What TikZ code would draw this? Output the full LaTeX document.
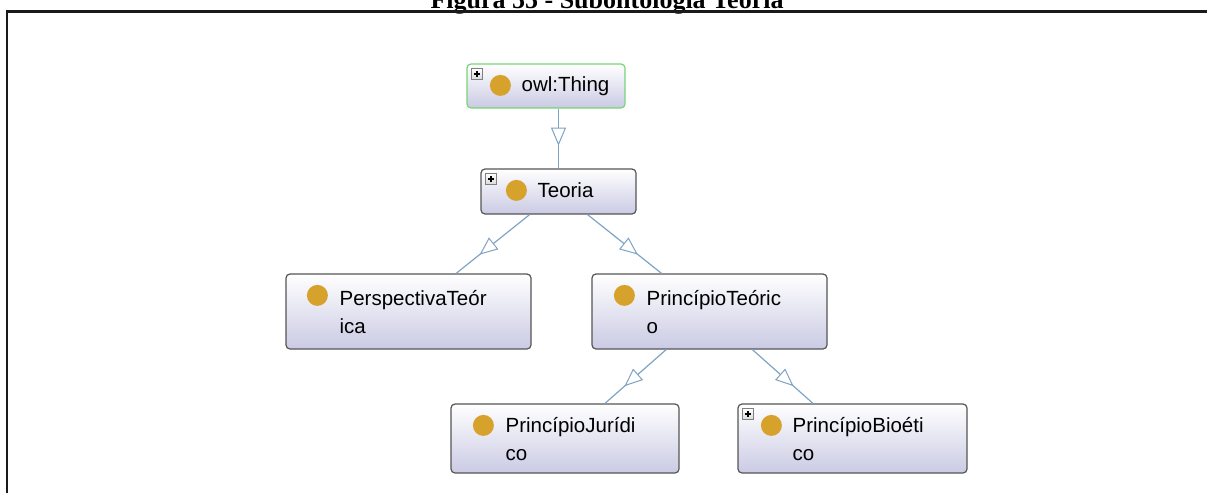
\documentclass[tikz,border=0pt]{standalone}
\usepackage{fontspec}
\setmainfont{Liberation Serif}
\newfontfamily\owlfont{Liberation Sans}
\usetikzlibrary{calc,arrows.meta,decorations.markings}
\usepackage{xcolor}

\definecolor{edgeblue}{HTML}{7FA3C4}
\definecolor{boxline}{HTML}{555555}
\definecolor{boxbot}{HTML}{CACAE4}
\definecolor{thinggreen}{HTML}{78D478}
\definecolor{dotgold}{HTML}{D6A22C}
\definecolor{framecol}{HTML}{1A1A1A}

\tikzset{
  cls/.style={rectangle,rounded corners=4pt,draw=boxline,line width=1.2pt,
    top color=white,bottom color=boxbot,inner sep=0pt},
  clstext/.style={anchor=west,inner sep=0pt,align=left,
    font=\owlfont\fontsize{20.5}{28}\selectfont},
  isa/.style={draw=edgeblue,line width=1.2pt,postaction={decorate},
    decoration={markings,mark=at position #1 with
      {\arrow{Triangle[length=18pt,width=15pt,fill=white,line width=1pt]}}}},
  isa/.default=0.68,
  plusbox/.style={draw=gray,line width=0.8pt,top color=white,bottom color=gray!30}
}

\begin{document}
\begin{tikzpicture}[x=1pt,y=-1pt]
  % Ventana
  \useasboundingbox (0,0) rectangle (1207,493);

  % Titulo y marco
  \node[anchor=base,font=\bfseries\fontsize{26}{30}\selectfont] (title) at (607,8)
    {Figura 55 - Subontologia Teoria};
  \draw[line width=2.4pt,framecol] (6.7,493) -- (6.7,11.5) -- (1207,11.5);

  % Clases
  \node[cls,draw=thinggreen,minimum width=158,minimum height=44] (thing) at (546,86) {};
  \node[cls,minimum width=155,minimum height=45] (teoria) at (558.5,191.5) {};
  \node[cls,minimum width=245,minimum height=75] (persp) at (408.5,311.5) {};
  \node[cls,minimum width=235,minimum height=75] (ptheo) at (709.5,311.5) {};
  \node[cls,minimum width=228,minimum height=69] (pjur) at (565,438.5) {};
  \node[cls,minimum width=229,minimum height=69] (pbio) at (852.5,438.5) {};

  % Bolitas
  \foreach \n/\dx in {thing/34,teoria/36,persp/32,ptheo/33,pjur/33,pbio/34}{
    \fill[dotgold] ($(\n.north west)+(\dx,22)$) circle (10.5);
  }

  % Cajitas +
  \foreach \n in {thing,teoria,pbio}{
    \draw[plusbox] ($(\n.north west)+(5,5)$) rectangle +(11,11);
    \draw[line width=1.3pt] ($(\n.north west)+(7.5,10.5)$) -- +(6,0);
    \draw[line width=1.3pt] ($(\n.north west)+(10.5,7.5)$) -- +(0,6);
  }

  % Textos
  \node[clstext] (thing-txt) at ($(thing.west)+(55,0)$) {\strut owl:Thing};
  \node[clstext] (teoria-txt) at ($(teoria.west)+(57,0)$) {\strut Teoria};
  \node[clstext,yshift=-2pt] (persp-txt) at ($(persp.west)+(54,0)$)
    {PerspectivaTeór\strut\\ica\strut};
  \node[clstext,yshift=-2pt] (ptheo-txt) at ($(ptheo.west)+(55,0)$)
    {PrincípioTeóric\strut\\o\strut};
  \node[clstext,yshift=-2pt] (pjur-txt) at ($(pjur.west)+(55,0)$)
    {PrincípioJurídi\strut\\co\strut};
  \node[clstext,yshift=-2pt] (pbio-txt) at ($(pbio.west)+(55,0)$)
    {PrincípioBioéti\strut\\co\strut};

  % Relaciones
  \draw[isa=0.62] (thing.south -| teoria.north) -- (teoria.north);
  \draw[isa] (teoria) -- (persp);
  \draw[isa] (teoria) -- (ptheo);
  \draw[isa] (ptheo) -- (pjur);
  \draw[isa] (ptheo) -- (pbio);
\end{tikzpicture}
\end{document}
